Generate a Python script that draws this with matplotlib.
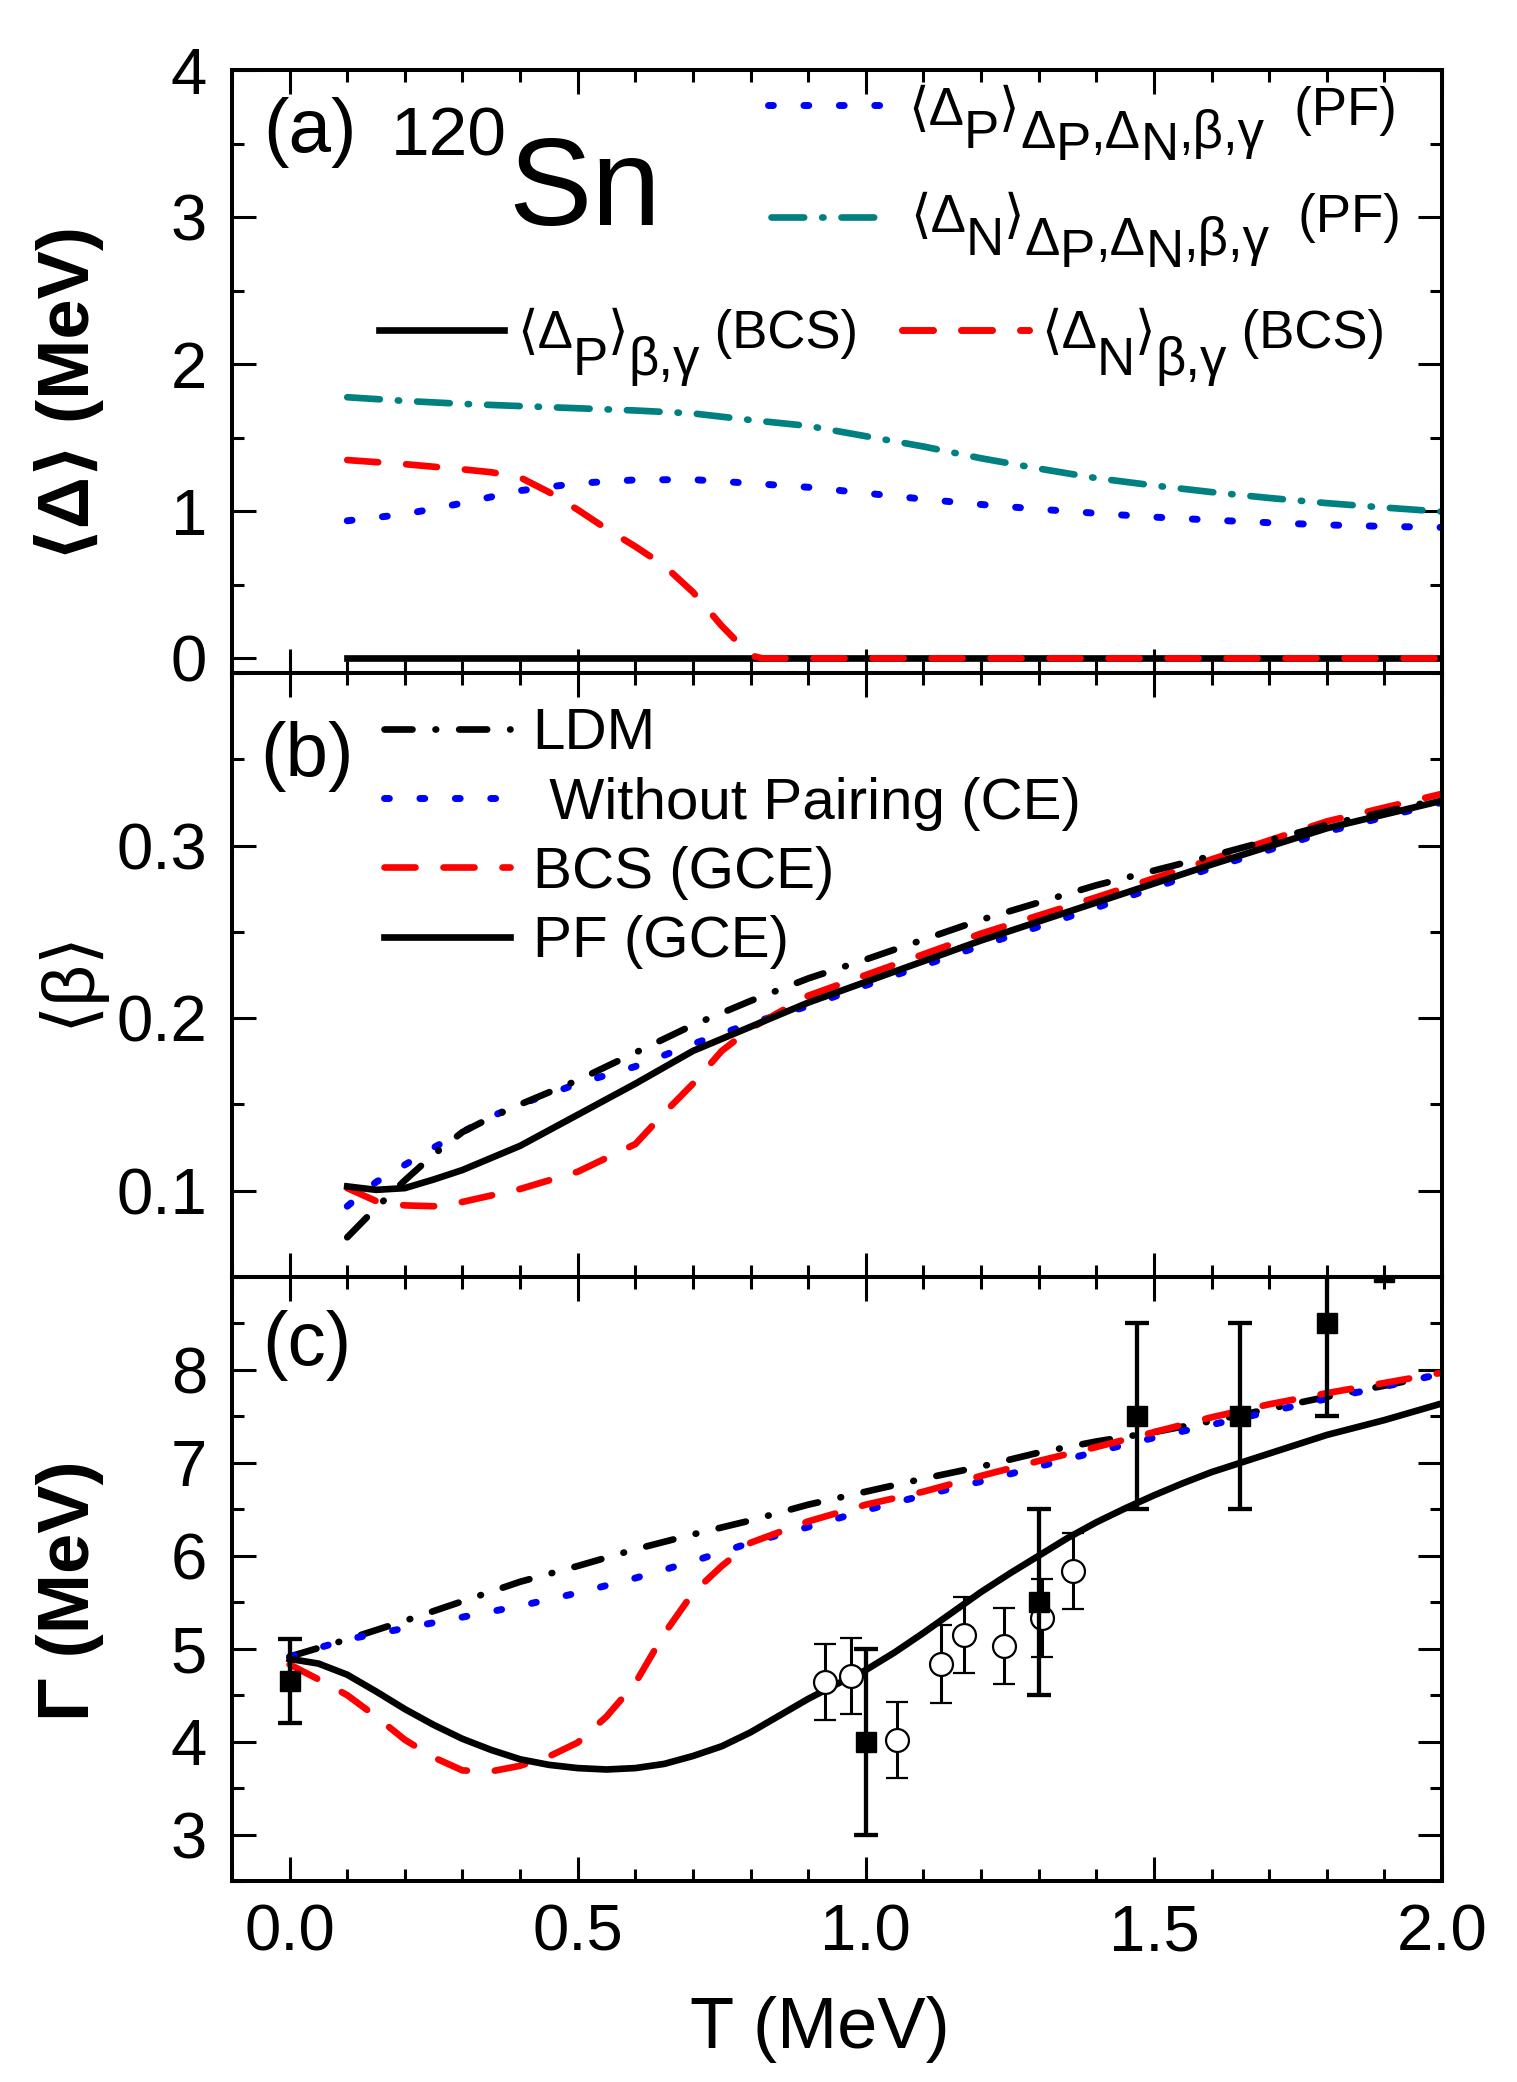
import numpy as np
import matplotlib
matplotlib.use('Agg')
import matplotlib.pyplot as plt
from matplotlib.ticker import MultipleLocator, FixedLocator

plt.rcParams['font.family'] = ['Liberation Sans', 'DejaVu Sans']

# ---------------- data ----------------
# panel (a): pairing gaps
Ta = [0.1, 0.2, 0.3, 0.4, 0.5, 0.6, 0.7, 0.8, 0.9, 1.0, 1.1, 1.2, 1.3, 1.4, 1.5, 1.6, 1.7, 1.8, 1.9, 2.0]
gapN_pf = [1.775, 1.75, 1.73, 1.715, 1.70, 1.685, 1.665, 1.62, 1.58, 1.51, 1.44, 1.36, 1.29, 1.225,
           1.175, 1.13, 1.09, 1.055, 1.025, 0.997]
gapP_pf = [0.935, 0.98, 1.055, 1.14, 1.19, 1.213, 1.215, 1.19, 1.163, 1.123, 1.082, 1.046, 1.014,
           0.986, 0.96, 0.94, 0.922, 0.907, 0.897, 0.89]
Ta_bcsN = [0.1, 0.2, 0.3, 0.35, 0.4, 0.45, 0.5, 0.55, 0.6, 0.65, 0.7, 0.75, 0.8, 0.82, 1.0, 1.5, 2.0]
gapN_bcs = [1.348, 1.32, 1.285, 1.265, 1.23, 1.13, 1.01, 0.88, 0.76, 0.63, 0.45, 0.22, 0.02, 0.0, 0.0, 0.0, 0.0]
Ta_bcsP = [0.1, 1.0, 2.0]
gapP_bcs = [0.0, 0.0, 0.0]

# panel (b): deformation
Tb = [0.1, 0.15, 0.2, 0.25, 0.3, 0.35, 0.4, 0.5, 0.6, 0.7, 0.8, 0.9, 1.0, 1.2, 1.4, 1.6, 1.8, 2.0]
beta_pf = [0.1025, 0.1005, 0.1015, 0.1065, 0.112, 0.119, 0.126, 0.144, 0.162, 0.181, 0.195, 0.209,
           0.221, 0.245, 0.267, 0.289, 0.310, 0.326]
beta_ldm = [0.073, 0.090, 0.106, 0.121, 0.134, 0.1425, 0.150, 0.164, 0.180, 0.196, 0.210, 0.223,
            0.234, 0.257, 0.277, 0.294, 0.312, 0.327]
beta_np = [0.091, 0.105, 0.115, 0.125, 0.134, 0.143, 0.150, 0.162, 0.172, 0.185, 0.197, 0.207,
           0.219, 0.242, 0.264, 0.287, 0.308, 0.325]
Tb_bcs = [0.1, 0.15, 0.2, 0.25, 0.3, 0.4, 0.5, 0.55, 0.6, 0.65, 0.7, 0.75, 0.8, 0.9, 1.0, 1.2, 1.4,
          1.6, 1.8, 2.0]
beta_bcs = [0.1015, 0.094, 0.0915, 0.091, 0.0935, 0.101, 0.111, 0.119, 0.127, 0.145, 0.162, 0.181,
            0.194, 0.213, 0.225, 0.249, 0.270, 0.292, 0.314, 0.330]

# panel (c): GDR width
Tc = [0.0, 0.05, 0.1, 0.15, 0.2, 0.25, 0.3, 0.35, 0.4, 0.45, 0.5, 0.55, 0.6, 0.65, 0.7, 0.75, 0.8,
      0.85, 0.9, 0.95, 1.0, 1.05, 1.1, 1.15, 1.2, 1.25, 1.3, 1.35, 1.4, 1.45, 1.5, 1.55, 1.6, 1.7,
      1.8, 1.9, 2.0]
gam_pf = [4.89, 4.84, 4.72, 4.54, 4.35, 4.18, 4.03, 3.91, 3.81, 3.75, 3.715, 3.70, 3.715, 3.76,
          3.845, 3.95, 4.10, 4.28, 4.46, 4.62, 4.77, 4.96, 5.17, 5.39, 5.61, 5.81, 6.00, 6.19, 6.36,
          6.51, 6.65, 6.78, 6.90, 7.10, 7.30, 7.46, 7.64]
Tc_bcs = [0.0, 0.05, 0.1, 0.15, 0.2, 0.25, 0.3, 0.35, 0.4, 0.45, 0.5, 0.55, 0.6, 0.65, 0.7, 0.75,
          0.8, 0.9, 1.0, 1.1, 1.2, 1.3, 1.4, 1.5, 1.6, 1.7, 1.8, 1.9, 2.0]
gam_bcs = [4.83, 4.67, 4.50, 4.27, 4.02, 3.83, 3.69, 3.68, 3.74, 3.84, 3.99, 4.27, 4.63, 5.16,
           5.60, 5.89, 6.14, 6.37, 6.55, 6.69, 6.86, 7.02, 7.17, 7.33, 7.49, 7.63, 7.75, 7.86, 7.97]
Tc2 = [0.0, 0.1, 0.2, 0.3, 0.4, 0.5, 0.6, 0.7, 0.8, 0.9, 1.0, 1.1, 1.2, 1.3, 1.4, 1.5, 1.6, 1.7,
       1.8, 1.9, 2.0]
gam_ldm = [4.915, 5.10, 5.30, 5.51, 5.72, 5.89, 6.07, 6.23, 6.38, 6.55, 6.69, 6.83, 6.96, 7.11,
           7.23, 7.33, 7.45, 7.58, 7.71, 7.83, 7.96]
gam_np = [4.915, 5.10, 5.22, 5.34, 5.46, 5.60, 5.76, 5.94, 6.14, 6.31, 6.49, 6.65, 6.80, 6.96,
          7.12, 7.27, 7.41, 7.55, 7.69, 7.82, 7.96]

# experimental points
exp_sq_T = [0.0, 1.0, 1.3, 1.47, 1.65, 1.8, 1.9]
exp_sq_G = [4.65, 4.0, 5.5, 7.5, 7.5, 8.5, 9.05]
exp_sq_lo = [0.45, 1.0, 1.0, 1.0, 1.0, 1.0, 0.0]
exp_sq_hi = [0.45, 1.0, 1.0, 1.0, 1.0, 1.0, 1.0]
exp_ci_T = [0.93, 0.975, 1.055, 1.13, 1.17, 1.24, 1.305, 1.36]
exp_ci_G = [4.64, 4.71, 4.02, 4.84, 5.15, 5.03, 5.33, 5.84]
exp_ci_err = [0.41, 0.41, 0.41, 0.42, 0.41, 0.41, 0.42, 0.41]

xticks = [0.0, 0.5, 1.0, 1.5, 2.0]
xtick_labels = ['0.0', '0.5', '1.0', '1.5', '2.0']

# ---------------- styles ----------------
TEAL = '#008080'
BLUE = '#0000FF'
RED = '#FF0000'
LW = 4.8
DOT = dict(color=BLUE, lw=5.0, ls=(0, (0.7, 4.4)), dash_capstyle='round')
DASH = dict(color=RED, lw=LW, ls=(0, (4.65, 4.2)), dash_capstyle='round')
DASHDOT_T = dict(color=TEAL, lw=LW, ls=(0, (4.9, 2.7, 0.2, 2.7)), dash_capstyle='round')
LDM = dict(color='black', lw=LW, ls=(0, (4.2, 3.45, 0.1, 3.45)), dash_capstyle='round')
SOLID = dict(color='black', lw=LW, ls='-')

TICKFS = 47
W, H = 1517, 2082
L, R = 232, 1442
tops = [70, 673, 1277]
bots = [673, 1277, 1881]

fig = plt.figure(figsize=(W / 100, H / 100), dpi=100)
axes = []
for t, b in zip(tops, bots):
    ax = fig.add_axes([L / W, 1 - b / H, (R - L) / W, (b - t) / H])
    axes.append(ax)
ax1, ax2, ax3 = axes

for ax in axes:
    for s in ax.spines.values():
        s.set_linewidth(2.9)
    ax.set_xlim(-0.1, 2.0)
    ax.xaxis.set_major_locator(FixedLocator(xticks))
    ax.xaxis.set_minor_locator(MultipleLocator(0.1))
    ax.tick_params(which='both', direction='in', top=True, right=True, width=2.2,
                   labelsize=TICKFS)
    ax.tick_params(which='major', length=17)
    ax.tick_params(which='minor', length=8.6)
    ax.tick_params(axis='x', pad=16)
    ax.tick_params(axis='y', pad=18)

ax1.tick_params(labelbottom=False)
ax2.tick_params(labelbottom=False)
ax3.set_xticklabels(xtick_labels)


def key_only(ax, h, x, y, hl, fs=38):
    lg = ax.legend([h], [''], loc='center left', bbox_to_anchor=(x, y), frameon=False,
                   borderpad=0, borderaxespad=0, handlelength=hl, handletextpad=0,
                   fontsize=fs)
    ax.add_artist(lg)
    return lg


def rich(ax, x, y, pieces, fs=38):
    """Chain of text pieces; each piece has a vertical offset (points) from the baseline."""
    prev = None
    prev_off = 0.0
    for s, off in pieces:
        if prev is None:
            prev = ax.text(x, y, s, transform=ax.transAxes, fontsize=fs, ha='left',
                           va='baseline')
        else:
            prev = ax.annotate(s, xy=(1, 0), xycoords=prev, xytext=(0, off - prev_off),
                               textcoords='offset points', fontsize=fs, ha='left',
                               va='bottom')
        prev_off = off


# ---- panel (a)
ax1.set_ylim(-0.1, 4.0)
ax1.yaxis.set_major_locator(FixedLocator([0, 1, 2, 3, 4]))
ax1.yaxis.set_minor_locator(MultipleLocator(0.5))
l_pbcs, = ax1.plot(Ta_bcsP, gapP_bcs, **SOLID)
l_nbcs, = ax1.plot(Ta_bcsN, gapN_bcs, **DASH)
l_npf, = ax1.plot(Ta, gapN_pf, **DASHDOT_T)
l_ppf, = ax1.plot(Ta, gapP_pf, **DOT)

S1, S2, S3 = -16.6, -25.2, -19.4
key_only(ax1, l_ppf, 0.443, 0.935, 2.25)
rich(ax1, 0.5587, 0.9088, [('⟨Δ', 0), ('P', S1), ('⟩', 0), ('Δ', S1), ('P', S2), (',Δ', S1),
                           ('N', S2), (',β,γ', S1), ('  (PF)', 0)])
key_only(ax1, l_npf, 0.4455, 0.748, 2.1)
rich(ax1, 0.5603, 0.7313, [('⟨Δ', 0), ('N', S1), ('⟩', 0), ('Δ', S1), ('P', S2), (',Δ', S1),
                           ('N', S2), (',β,γ', S1), ('  (PF)', 0)])
key_only(ax1, l_pbcs, 0.1215, 0.561, 2.37)
rich(ax1, 0.2355, 0.539, [('⟨Δ', 0), ('P', S3), ('⟩', 0), ('β,γ', S3), (' (BCS)', 0)])
key_only(ax1, l_nbcs, 0.5537, 0.561, 2.4)
rich(ax1, 0.6686, 0.539, [('⟨Δ', 0), ('N', S3), ('⟩', 0), ('β,γ', S3), (' (BCS)', 0)])

ax1.text(0.026, 0.864, '(a)', transform=ax1.transAxes, fontsize=55, ha='left', va='baseline')
ax1.text(0.131, 0.859, '120', transform=ax1.transAxes, fontsize=50, ha='left', va='baseline')
ax1.text(0.228, 0.743, 'Sn', transform=ax1.transAxes, fontsize=90, ha='left', va='baseline')

ax1.set_ylabel('⟨Δ⟩ (MeV)', fontsize=52, fontweight='bold')
ax1.yaxis.set_label_coords(-0.106, 0.464)

# ---- panel (b)
ax2.set_ylim(0.05, 0.4)
ax2.yaxis.set_major_locator(FixedLocator([0.1, 0.2, 0.3]))
ax2.yaxis.set_minor_locator(MultipleLocator(0.05))
h_np, = ax2.plot(Tb, beta_np, **DOT)
h_bcs, = ax2.plot(Tb_bcs, beta_bcs, **DASH)
h_pf, = ax2.plot(Tb, beta_pf, **SOLID)
h_ldm, = ax2.plot(Tb, beta_ldm, **LDM)
ax2.legend([h_ldm, h_np, h_bcs, h_pf], ['LDM', ' Without Pairing (CE)', 'BCS (GCE)', 'PF (GCE)'],
           loc='upper left', bbox_to_anchor=(0.126, 0.943), frameon=False, borderpad=0,
           borderaxespad=0, handlelength=2.16, handletextpad=0.38, labelspacing=0.26,
           fontsize=42)
ax2.text(0.023, 0.8295, '(b)', transform=ax2.transAxes, fontsize=55, ha='left', va='baseline')
ax2.set_ylabel('⟨β⟩', fontsize=52)
ax2.yaxis.set_label_coords(-0.106, 0.495)

# ---- panel (c)
ax3.set_ylim(2.5, 9.0)
ax3.yaxis.set_major_locator(FixedLocator([3, 4, 5, 6, 7, 8]))
ax3.yaxis.set_minor_locator(MultipleLocator(0.5))
ax3.plot(Tc2, gam_ldm, **LDM)
ax3.plot(Tc2, gam_np, **DOT)
ax3.plot(Tc_bcs, gam_bcs, **DASH)
ax3.plot(Tc, gam_pf, **SOLID)
ax3.errorbar(exp_ci_T, exp_ci_G, yerr=exp_ci_err, fmt='o', ms=16.5, mfc='white', mec='black',
             mew=1.6, ecolor='black', elinewidth=2.2, capsize=7.7, capthick=2.2, zorder=5)
ax3.errorbar(exp_sq_T, exp_sq_G, yerr=[exp_sq_lo, exp_sq_hi], fmt='s', ms=15, mfc='black',
             mec='black', ecolor='black', elinewidth=3.1, capsize=8.3, capthick=3.1, zorder=6)
ax3.text(0.025, 0.854, '(c)', transform=ax3.transAxes, fontsize=55, ha='left', va='baseline')
ax3.set_ylabel('Γ (MeV)', fontsize=52, fontweight='bold')
ax3.yaxis.set_label_coords(-0.106, 0.48)
ax3.set_xlabel('T (MeV)', fontsize=52)
ax3.xaxis.set_label_coords(0.486, -0.19)

fig.savefig('out.png', dpi=100)
